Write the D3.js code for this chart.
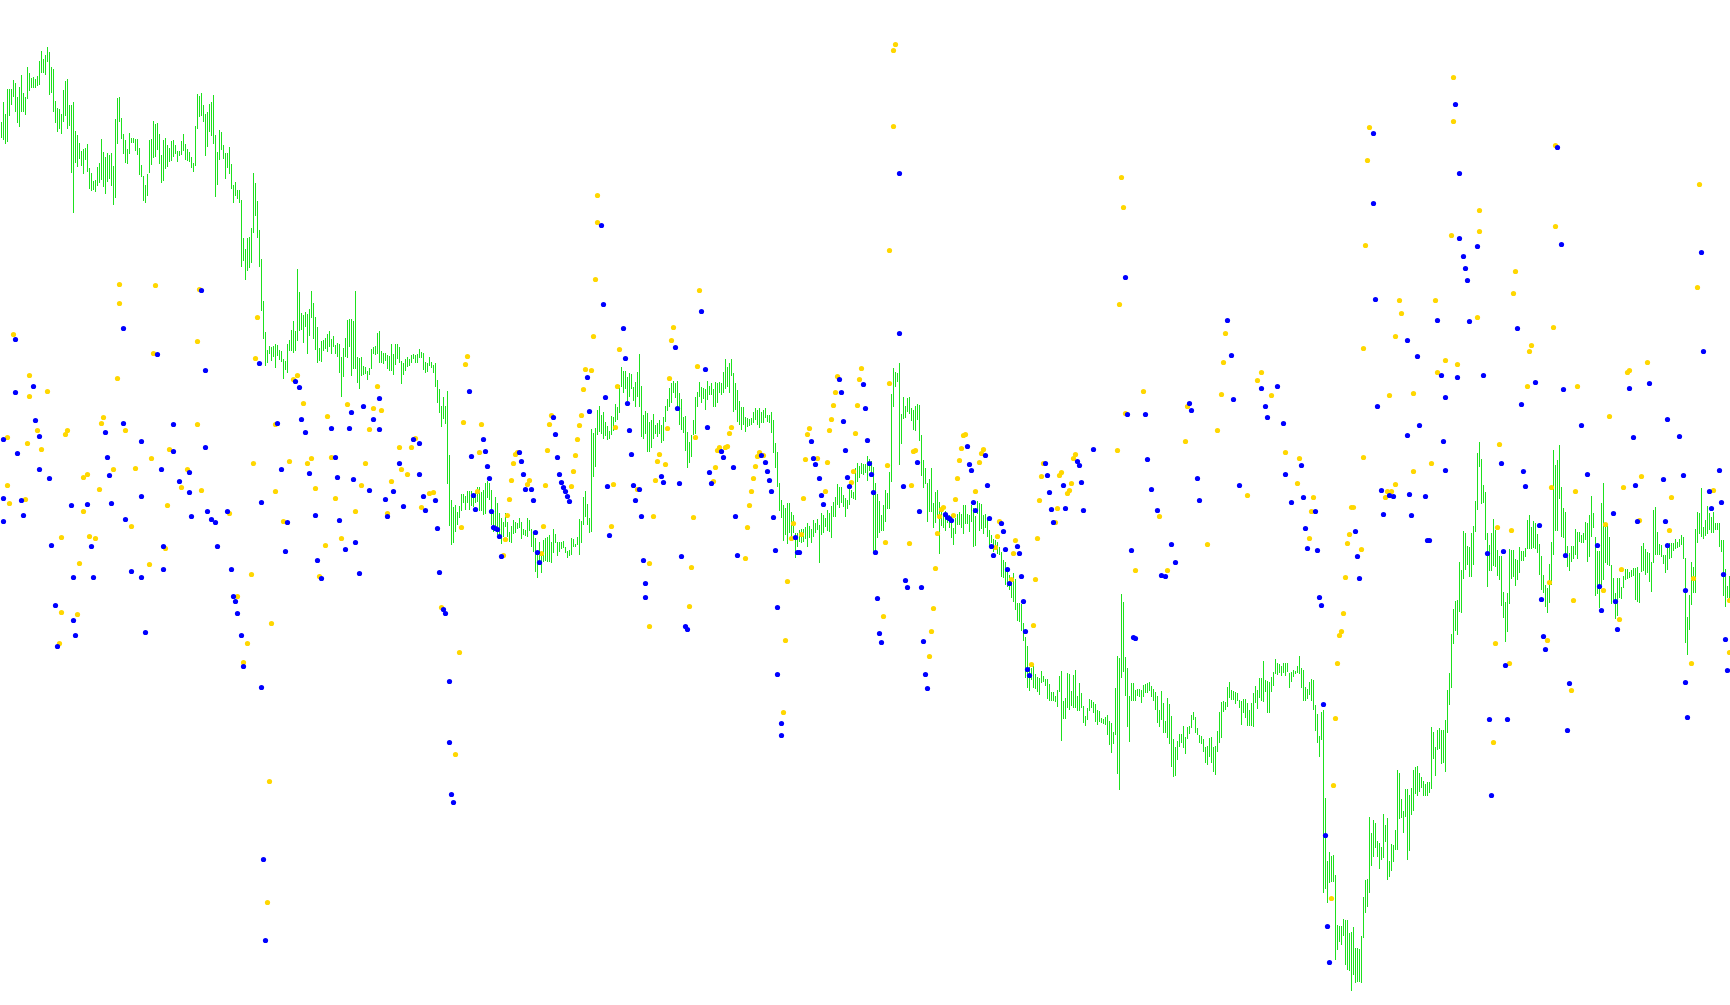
<!DOCTYPE html>
<html><head><meta charset="utf-8">
<script src="https://cdn.jsdelivr.net/npm/d3@7/dist/d3.min.js"></script>
<style>html,body{margin:0;padding:0;background:#fff;overflow:hidden}</style>
</head><body>
<svg id="chart" width="1730" height="1005"></svg>
<script>
// Bar highs (one per bar index 0..864)
const barHigh = [
878,898,886,911,911,911,920,917,903,913,925,907,903,933,927,922,923,921,924,939,949,941,945,953,948,933,931,899,892,891,886,910,919,921,895,895,898,869,865,857,849,851,852,856,832,827,819,820,833,837,861,848,843,847,845,847,834,881,902,903,882,866,860,851,867,862,862,861,861,852,835,824,815,826,860,861,879,876,877,866,845,860,862,855,852,859,860,855,849,849,859,866,856,851,848,843,837,874,906,904,907,895,886,888,896,898,905,865,848,
870,868,855,847,847,853,836,815,818,810,810,800,762,751,762,763,772,827,817,799,770,741,699,668,650,654,653,654,656,655,650,649,641,639,656,660,670,679,669,731,708,687,685,688,686,691,709,697,683,673,652,659,660,662,666,669,661,664,655,657,656,643,652,662,680,681,681,679,709,643,642,643,634,633,629,632,651,653,654,667,669,649,647,647,645,644,656,646,656,656,653,639,637,641,643,641,645,646,645,646,651,648,647,638,637,643,638,635,
637,620,611,594,603,594,609,545,500,493,495,488,494,506,506,504,509,509,509,505,507,513,513,508,510,517,519,517,510,487,503,497,487,482,478,487,478,468,474,480,478,477,482,478,471,470,482,480,471,468,462,447,458,444,460,462,463,465,458,471,466,458,458,458,459,453,449,450,462,461,456,463,481,479,503,509,496,482,571,567,572,590,594,585,588,578,574,569,584,583,596,593,615,633,629,629,623,627,626,613,618,628,646,614,585,589,587,578,
580,586,575,577,580,575,583,594,601,612,617,619,617,619,607,601,583,584,568,558,565,580,603,608,618,613,612,611,619,614,617,611,618,617,618,617,628,641,633,637,641,627,617,610,599,593,593,583,582,581,582,588,592,590,592,588,590,592,585,585,588,580,557,548,517,500,495,492,497,497,488,485,467,467,470,471,471,473,477,474,471,480,477,481,475,487,485,482,490,487,494,498,503,516,513,513,505,502,500,517,510,508,532,537,534,537,536,536,
544,541,539,533,517,506,499,485,495,510,507,528,606,632,628,627,637,586,603,594,602,603,592,590,594,596,595,565,540,532,517,521,532,497,508,510,498,492,486,489,484,485,480,472,482,486,488,486,495,495,486,485,495,492,484,499,497,496,485,486,482,470,465,461,460,458,453,448,440,438,428,425,422,427,421,397,397,396,377,363,354,333,332,334,326,323,322,329,324,321,321,316,308,308,304,310,324,329,299,302,327,326,309,325,330,304,317,307,
294,284,292,301,300,298,296,290,289,282,281,283,285,279,277,268,312,344,342,406,398,343,332,304,317,317,310,311,311,310,315,316,317,318,314,311,308,304,290,309,297,279,302,296,284,261,253,259,266,266,274,263,273,274,285,288,283,272,265,264,261,253,254,262,263,253,254,269,288,298,299,298,313,318,310,309,308,307,300,299,301,301,297,290,297,307,314,310,322,322,339,320,319,318,323,328,341,337,336,334,337,337,337,327,328,330,329,334,
344,332,330,313,311,318,321,320,295,286,264,288,290,202,139,148,144,145,125,75,74,74,81,80,80,67,68,73,52,52,51,64,103,120,121,183,167,180,177,159,157,153,186,175,182,139,156,155,170,230,227,201,189,211,211,205,212,230,233,234,227,223,219,216,218,218,273,268,253,270,272,270,270,280,310,327,366,391,399,400,438,430,469,467,454,453,467,474,499,547,558,541,515,508,467,455,467,481,470,450,444,444,408,398,407,451,450,450,
441,440,453,449,449,452,480,485,473,479,477,466,456,444,425,415,412,436,458,550,535,540,555,513,492,488,454,447,454,454,471,468,468,465,467,478,477,485,504,487,463,449,449,497,517,477,476,463,435,422,407,422,422,413,424,431,431,428,430,432,432,433,427,454,457,451,448,447,438,490,493,468,456,455,445,445,453,457,457,457,461,458,461,465,463,442,383,405,438,433,471,488,487,512,473,480,494,487,483,488,477,477,477,460,460,431,414,424
];
// Bar lows
const barLow = [
862,860,856,858,884,895,903,888,877,873,888,888,885,901,909,912,912,912,914,915,927,927,925,938,905,907,888,877,868,871,866,878,884,871,874,827,787,837,833,841,834,826,840,828,811,809,810,808,814,817,820,813,806,818,821,814,795,802,856,878,861,846,837,836,846,857,857,849,845,825,823,799,797,804,827,835,842,843,850,836,817,819,831,833,838,839,843,846,838,844,845,849,840,839,838,832,828,834,871,883,884,878,844,853,868,864,856,803,815,
840,850,841,821,832,826,811,797,804,801,797,733,739,720,729,732,737,767,784,762,733,689,661,634,637,646,639,643,632,644,640,638,621,630,627,649,649,647,649,659,669,670,657,673,646,664,682,661,650,637,639,638,649,651,648,653,646,653,646,643,627,603,623,643,642,653,624,631,631,617,611,624,625,626,620,625,631,646,645,646,637,637,636,639,631,629,629,625,635,641,637,616,625,629,633,634,637,641,637,637,642,642,630,627,628,634,632,627,
613,597,587,573,581,576,516,474,455,457,468,475,482,489,497,490,497,490,494,493,497,498,489,489,485,486,502,500,475,468,472,465,462,456,463,473,463,458,457,466,467,471,472,461,465,464,463,469,453,448,428,422,440,427,438,439,438,438,437,447,457,444,448,451,452,447,442,444,445,453,453,455,445,457,475,483,475,467,468,523,533,565,568,566,561,564,560,561,565,569,578,580,587,613,607,611,599,603,611,599,593,603,593,563,561,566,548,548,
552,561,566,563,566,557,559,578,589,593,597,607,602,591,575,570,567,549,532,537,543,565,566,593,603,597,601,590,600,605,605,593,593,597,607,605,607,611,613,607,624,588,590,578,575,570,575,568,573,574,575,577,580,575,572,577,577,582,578,577,567,547,532,513,489,482,459,465,456,467,463,467,442,453,458,457,458,461,453,462,457,463,467,470,437,465,467,473,469,468,462,483,483,495,492,497,493,483,491,495,502,501,500,518,522,526,525,527,
519,529,523,448,448,462,467,469,469,478,491,491,518,593,613,618,535,556,581,582,588,586,579,570,569,580,559,524,512,516,478,488,488,472,477,484,446,474,472,469,477,472,462,455,466,475,475,472,466,476,476,468,478,453,454,486,469,471,466,472,463,454,457,448,450,446,445,423,422,415,413,410,402,398,390,379,378,369,359,322,312,309,320,312,311,308,305,317,318,314,301,299,299,299,298,293,308,259,281,281,292,290,294,292,292,289,289,292,
277,274,280,289,292,287,278,275,278,277,276,275,265,255,247,256,265,226,210,322,328,304,273,258,299,299,299,304,303,297,303,307,307,309,303,299,290,277,273,280,267,267,262,256,233,223,224,240,253,257,252,246,261,266,272,280,267,265,257,256,248,237,235,243,237,228,225,248,257,262,288,290,293,302,300,300,296,299,292,275,287,282,274,274,274,273,297,291,302,299,298,308,287,287,308,314,326,325,327,324,327,324,328,312,318,323,326,327,
326,312,299,299,301,305,299,290,269,257,243,260,107,111,97,117,118,118,40,50,58,55,64,35,30,29,9,25,17,18,18,17,62,87,93,107,134,143,152,143,131,140,142,158,120,123,129,138,150,150,181,182,167,183,140,149,185,189,206,204,208,212,204,204,204,207,211,241,224,250,251,236,237,228,267,295,312,356,369,365,388,387,421,430,435,423,423,435,468,490,533,496,497,460,413,429,429,434,433,424,420,394,382,358,368,396,421,423,
414,420,427,439,439,443,451,451,451,452,451,447,425,410,407,393,387,397,415,445,469,469,501,463,462,443,433,429,438,441,445,441,458,457,457,460,438,443,463,472,404,406,392,415,420,437,435,434,396,399,381,384,402,401,412,420,421,422,423,424,400,398,397,428,429,425,427,418,408,437,445,445,445,443,436,427,430,441,442,449,451,452,453,455,441,357,345,370,395,407,407,457,466,463,461,464,466,470,467,467,470,470,453,448,404,393,402,397
];
// Blue dots: [bar index, value]
const blueDots = [
[7,661],[7,608],[16,614],[17,580],[19,564],[1,561],[8,547],[19,531],[24,522],[1,502],[10,500],[1,479],[11,485],[25,455],[27,395],[28,354],[36,380],[37,365],[35,495],[36,423],[43,496],[45,454],[46,423],[52,568],[53,543],[54,525],[55,497],[61,577],[61,672],[62,481],[65,429],[70,559],[70,504],[70,423],[72,368],[78,646],[80,531],[81,454],[81,431],[86,576],[86,549],[89,519],[94,528],[94,508],[95,484],[100,710],[102,630],[102,553],[103,489],[105,481],[107,478],[108,454],
[129,637],[147,619],[149,613],[189,602],
[113,489],[115,431],[116,404],[117,399],[118,387],[120,365],[121,334],[130,498],[130,313],[131,141],[132,60],[138,577],[140,531],[142,449],[143,478],[150,581],[152,568],[154,527],[157,485],[158,440],[160,422],[165,572],[167,543],[168,523],[169,480],[172,451],[174,572],[175,588],[176,521],[177,458],[179,427],[181,594],[184,510],[186,581],[189,571],[192,501],[193,484],[196,509],[199,537],[201,494],[206,561],[209,557],[209,526],[211,504],[212,490],
[234,609],[241,561],[242,549],[235,544],[243,534],[244,522],[217,500],[236,505],[237,491],[245,489],[218,472],[246,473],[247,472],[248,471],[249,464],[250,444],[219,428],[259,548],[260,539],[261,526],[262,511],[265,511],[266,500],[267,468],[268,448],[269,438],[276,583],[277,566],[278,543],[279,526],[280,518],[281,513],[282,509],[283,504],[284,499],[294,589],[293,623],[312,642],[302,603],[313,597],[314,570],[315,546],[303,514],[316,515],[319,511],[317,500],[320,484],[304,465],[321,440],[322,417],
[300,775],[301,696],[311,672],[221,391],[222,387],[224,319],[224,258],[225,206],[226,198],[322,403],
[337,653],[352,631],[338,592],[353,573],[330,524],[331,518],[339,517],[340,444],[360,549],[361,543],[354,528],[366,533],[355,517],[367,484],[368,445],[380,545],[382,538],[383,529],[384,520],[385,509],[386,483],[387,450],[397,463],[398,448],[399,448],[405,559],[406,542],[407,536],[409,522],[410,505],[411,496],[421,579],[420,608],[419,621],[431,616],[432,592],[433,560],[422,550],[423,523],[424,514],
[350,689],[342,374],[343,371],[388,393],[388,326],[390,277],[390,265],
[434,537],[435,526],[436,508],[437,448],[438,402],[439,367],[440,358],[451,514],[458,538],[459,489],[452,420],[453,413],[460,413],[461,359],[462,326],[463,312],[472,486],[473,483],[474,482],[475,480],[483,554],[484,536],[485,530],[492,545],[493,515],[486,498],[487,490],[494,482],[500,477],[501,469],[495,454],[496,445],[502,451],[508,454],[509,447],[503,431],[504,417],[510,424],[511,399],[512,369],[522,537],[523,525],[524,508],[525,491],[526,478],[531,515],[532,492],[538,539],[539,535],[540,518],[541,490],[513,331],[514,325],
[449,827],[449,667],
[566,363],[567,362],[546,551],[562,723],[563,586],[572,586],[565,450],[573,541],[575,511],[578,490],[580,425],[582,424],[585,456],[587,438],[594,597],[595,590],[598,522],[599,500],[613,680],[615,645],[616,601],[619,515],[630,612],[632,594],[633,583],[638,614],[641,577],[642,526],[645,498],
[703,565],[721,559],[650,535],[750,537],[722,530],[690,510],[694,505],[696,504],[704,506],[712,504],[651,503],[657,489],[691,486],[705,485],[652,472],[677,469],[653,452],[658,450],[678,444],[713,460],[714,460],[743,447],[751,449],[679,422],[659,403],[660,395],[661,296],[662,165],[663,74],[664,38],[752,335],[744,281],[753,281],[745,205],
[686,867],[686,797],[687,701],[688,594],[727,896],[729,827],[729,762],[731,744],[732,732],[733,720],[738,754],[734,679],[741,625],[718,680],[703,660],[708,644],[709,575],[720,625],[722,603],[728,623],
[761,529],[762,514],[793,526],[817,515],[831,521],[841,525],[859,530],[854,509],[860,498],[855,492],[769,475],[806,487],[818,479],[832,479],[798,455],[782,445],[833,455],[799,414],[842,410],[770,401],[807,399],[800,390],[808,371],[771,364],[772,351],[861,426],[862,361],[863,330],
[778,853],[780,756],[758,672],[767,618],[760,596],[781,611],[790,575],[814,612],[824,617],[816,563],[833,581],[839,564],[850,748],[851,649],[784,317],[783,270],[842,318],[843,283]
];
// Gold dots: [bar index, value]
const goldDots = [
[6,666],[14,625],[23,609],[14,604],[3,563],[13,557],[20,551],[18,570],[3,515],[4,497],[12,501],[30,463],[30,388],[29,357],[38,386],[33,570],[32,566],[39,437],[41,523],[43,526],[41,489],[44,464],[47,462],[49,511],[51,583],[50,577],[56,531],[58,622],[59,697],[59,716],[62,570],[65,474],[67,532],[74,436],[75,542],[76,647],[77,715],[82,452],[84,551],[83,495],[90,513],[93,531],[98,576],[98,659],[99,711],[100,510],
[128,683],[127,642],[148,625],[146,621],[188,614],
[114,487],[118,404],[121,338],[123,357],[125,426],[126,537],[133,98],[134,219],[135,377],[137,509],[137,576],[141,479],[144,539],[151,597],[153,537],[155,542],[157,512],[159,424],[162,455],[163,584],[165,543],[167,502],[170,462],[173,596],[177,489],[180,515],[182,537],[184,571],[186,592],[190,590],[193,487],[195,519],[199,553],[200,531],[203,526],[205,553],[207,562],[210,493],[214,507],
[233,644],[232,636],[231,578],[240,576],[239,548],[216,508],[238,509],[253,485],[230,473],[252,461],[251,445],[257,546],[258,548],[256,537],[255,520],[264,520],[263,516],[254,501],[271,474],[270,447],[275,585],[274,576],[273,550],[272,515],[286,529],[285,514],[287,545],[288,561],[289,575],[290,585],[291,611],[292,631],[295,630],[309,651],[308,614],[307,573],[306,516],[318,511],[305,474],[324,437],
[298,805],[298,778],[297,721],[296,664],[220,393],[227,246],[229,348],[324,374],
[335,660],[348,634],[334,622],[333,572],[347,563],[329,546],[328,539],[332,536],[327,520],[326,484],[346,483],[345,433],[365,573],[364,567],[359,553],[358,550],[363,554],[362,553],[357,533],[356,519],[372,442],[373,473],[374,495],[375,509],[376,522],[377,534],[378,544],[379,548],[381,545],[396,477],[395,462],[400,466],[401,502],[402,541],[404,572],[403,566],[408,542],[412,509],[413,538],[414,570],[415,581],[416,595],[417,608],[418,624],[429,621],[430,632],[428,595],[427,567],[426,529],[425,518],
[336,673],[349,710],[344,394],[391,288],[392,360],[393,419],
[444,617],[443,535],[442,458],[441,384],[455,515],[456,549],[457,550],[454,457],[467,432],[466,392],[465,369],[464,344],[468,467],[470,491],[471,493],[469,484],[476,485],[477,501],[478,522],[479,540],[480,552],[481,565],[482,566],[489,538],[490,547],[491,551],[487,509],[499,479],[498,464],[497,453],[506,447],[507,460],[505,421],[516,375],[517,421],[518,462],[519,500],[520,524],[521,537],[527,478],[528,492],[529,525],[530,528],[533,507],[534,510],[535,517],[536,542],[537,546],[515,336],
[447,956],[446,950],[446,874],[444,750],
[560,823],[561,793],[559,696],[562,587],[571,609],[558,550],[567,430],[579,484],[583,430],[592,559],[593,594],[603,456],[611,638],[612,667],[610,606],[608,570],[623,505],[628,620],[630,628],[635,605],[642,548],
[749,556],[649,542],[681,543],[715,537],[706,529],[648,517],[697,516],[693,509],[695,509],[692,503],[656,503],[655,489],[675,493],[676,493],[674,466],[654,462],[673,457],[680,451],[748,473],[755,470],[672,423],[671,387],[670,369],[669,365],[668,337],[667,282],[666,215],[665,102],[747,357],[754,337],[746,258],
[684,873],[683,840],[682,755],[681,652],[726,923],[726,879],[725,765],[739,790],[739,769],[738,683],[717,700],[699,700],[700,687],[697,664],[694,605],[706,607],[718,628],[722,640],[728,636],
[775,513],[787,509],[811,513],[820,524],[835,503],[856,510],[819,480],[834,470],[802,476],[810,431],[846,422],[774,418],[801,410],[786,400],[809,381],[773,360],[864,400],[864,348],[845,337],
[777,855],[777,774],[776,673],[757,729],[756,707],[765,655],[764,649],[763,614],[788,614],[804,584],[813,628],[814,630],[823,638],[849,816],[848,713],[785,310]
];

const W = 1730, H = 1005;
const n = Math.min(barHigh.length, barLow.length);
const x = d3.scaleLinear().domain([0, 864]).range([1, 1729]);
const y = d3.scaleLinear().domain([0, 1000]).range([1000, 0]);

const svg = d3.select('#chart');
svg.append('rect').attr('width', W).attr('height', H).attr('fill', '#ffffff');

const bars = d3.range(n).map(i => ({ i, h: barHigh[i], l: barLow[i] }));
svg.append('g').attr('class', 'bars')
  .selectAll('rect').data(bars).join('rect')
  .attr('x', d => Math.round(x(d.i)))
  .attr('y', d => Math.round(y(d.h)))
  .attr('width', 1)
  .attr('height', d => Math.max(1, Math.round(y(d.l) - y(d.h))))
  .attr('fill', '#1ee01e')
  .attr('shape-rendering', 'crispEdges');

function drawDots(data, color, cls) {
  svg.append('g').attr('class', cls)
    .selectAll('circle').data(data).join('circle')
    .attr('cx', d => Math.round(x(d[0])) + 0.5)
    .attr('cy', d => Math.round(y(d[1])) + 0.5)
    .attr('r', 2.6)
    .attr('fill', color);
}
drawDots(goldDots, '#ffd700', 'gold');
drawDots(blueDots, '#0000ff', 'blue');
</script>
</body></html>
